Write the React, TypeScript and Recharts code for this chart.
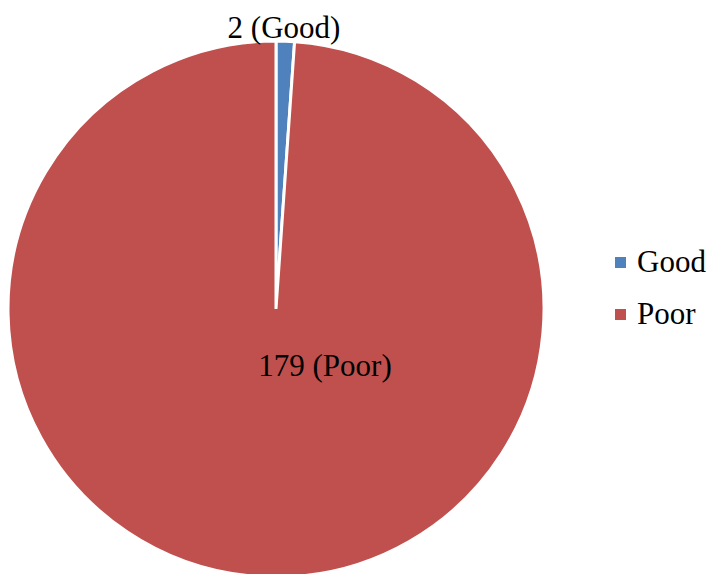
import React from "react";
import { PieChart, Pie, Cell, Legend } from "recharts";

const categories = ["Good", "Poor"];
const counts = [2, 179];
const colors = ["#4F81BD", "#C0504D"];

const data = categories.map((name, i) => ({ name, value: counts[i] }));

const FONT = "'Liberation Serif'";

const css = `
html body #root .chart-box, html body #root .chart-box *, html body #root .chart-box svg text, html body #root .chart-box .serif-text {
  font-family: 'Liberation Serif', serif !important;
}
`;

const renderLabel = (props: any) => {
  const { cx, cy, outerRadius, index, name, value } = props;
  const x = index === 0 ? cx + 8 : cx + outerRadius * 0.183;
  const y = index === 0 ? cy - outerRadius - 3 : cy + outerRadius * 0.25;
  return (
    <text className="serif-text" x={x} y={y} textAnchor="middle" style={{ fontFamily: FONT }} fontSize={31} fill="#000">
      {`${value} (${name})`}
    </text>
  );
};

const renderLegend = (props: any) => {
  const { payload } = props;
  return (
    <div className="serif-text" style={{ fontFamily: FONT, fontSize: 31, color: "#000" }}>
      {payload.map((entry: any, i: number) => (
        <div key={i} style={{ display: "flex", alignItems: "center", height: 52 }}>
          <span style={{ display: "inline-block", width: 11, height: 11, background: entry.color, marginRight: 11 }} />
          <span className="serif-text">{entry.value}</span>
        </div>
      ))}
    </div>
  );
};

export default function App() {
  return (
    <div className="chart-box" style={{ position: "absolute", left: 0, top: 0, width: 710, height: 574, background: "#fff", overflow: "hidden", fontFamily: FONT }}>
      <style>{css}</style>
      <PieChart width={710} height={574} margin={{ top: 0, right: 0, bottom: 0, left: 0 }}>
        <Pie
          data={data}
          dataKey="value"
          nameKey="name"
          cx={276}
          cy={309}
          outerRadius={268}
          startAngle={90}
          endAngle={-270}
          stroke="#fff"
          strokeWidth={3}
          label={renderLabel}
          labelLine={false}
          isAnimationActive={false}
        >
          {data.map((d, i) => (
            <Cell key={d.name} fill={colors[i]} />
          ))}
        </Pie>
        <Legend
          layout="vertical"
          content={renderLegend}
          wrapperStyle={{ position: "absolute", left: 615, top: 236, width: 95 }}
        />
      </PieChart>
    </div>
  );
}
